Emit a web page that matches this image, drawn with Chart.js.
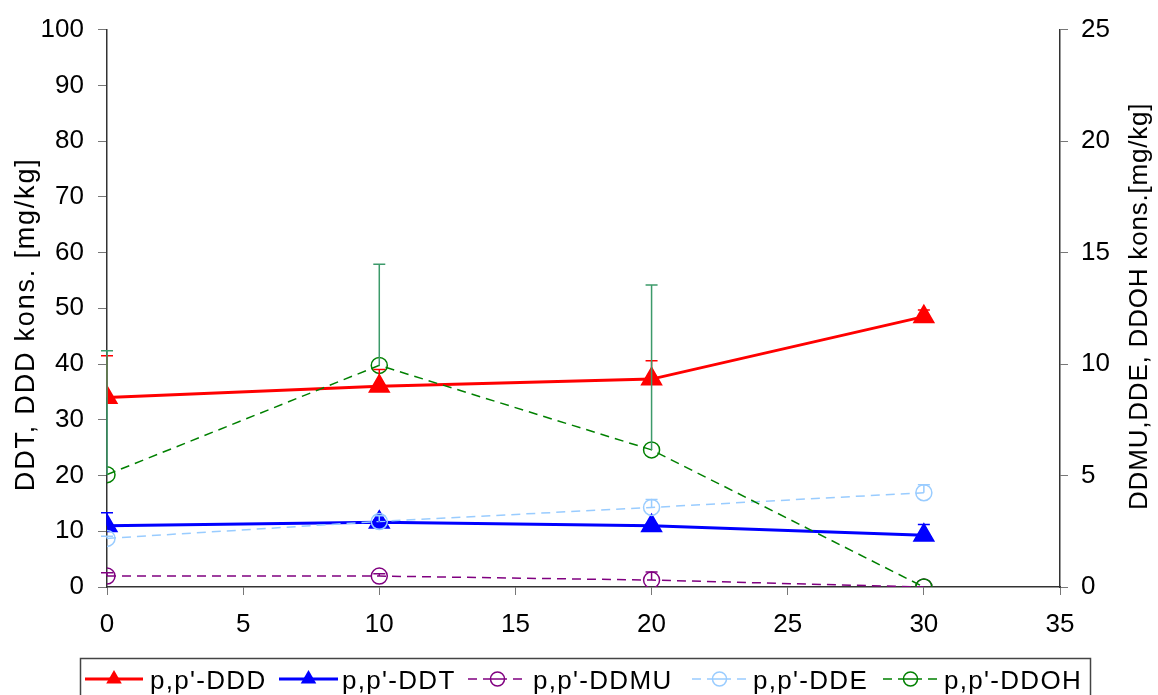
<!DOCTYPE html>
<html>
<head>
<meta charset="utf-8">
<title>DDT kons.</title>
<script src="https://cdn.jsdelivr.net/npm/chart.js@4.4.1/dist/chart.umd.min.js"></script>
<style>
    html, body { margin: 0; padding: 0; background: #fff; }
    #wrap { width: 1158px; height: 695px; }
</style>
</head>
<body>
<div id="wrap"><canvas id="ddtChart" width="1158" height="695"></canvas></div>
<script>
// sampling days (x) and measured concentrations
const days = [0, 10, 20, 30];

const dddValues = [34.0, 36.0, 37.3, 48.5];
const dddErrors = [7.5, 3.0, 3.3, 1.2];
const ddtValues = [11.0, 11.6, 11.0, 9.3];
const ddtErrors = [2.3, 0.4, 0.3, 1.9];

const ddmuValues = [0.49, 0.49, 0.31, 0];
const ddmuErrors = [0.15, 0.1, 0.36, 0];
const ddeValues = [2.18, 2.94, 3.57, 4.23];
const ddeErrors = [0.1, 0.26, 0.35, 0.36];
const ddohValues = [5.04, 9.94, 6.15, 0];
const ddohErrors = [5.56, 4.54, 7.4, 0];

const leftTitle = "DDT, DDD kons. [mg/kg]";
const rightTitle = "DDMU,DDE, DDOH kons.[mg/kg]";

const FONT = '"Liberation Sans", Arial, sans-serif';

function points(values) {
    return values.map((v, i) => ({ x: days[i], y: v }));
}

// plus-only error bars, drawn through the scales
const errorBars = {
    id: "errorBars",
    afterDatasetsDraw(chart) {
        const ctx = chart.ctx;
        chart.data.datasets.forEach((ds, di) => {
            const meta = chart.getDatasetMeta(di);
            const yScale = chart.scales[ds.yAxisID];
            ctx.save();
            ctx.strokeStyle = ds.errorColor;
            ctx.lineWidth = 1.5;
            ctx.setLineDash([]);
            (ds.errors || []).forEach((err, i) => {
                if (!err) return;
                const pt = meta.data[i];
                const top = yScale.getPixelForValue(ds.data[i].y + err);
                ctx.beginPath();
                ctx.moveTo(pt.x, pt.y);
                ctx.lineTo(pt.x, top);
                ctx.moveTo(pt.x - 6, top);
                ctx.lineTo(pt.x + 6, top);
                ctx.stroke();
            });
            ctx.restore();
        });
    }
};

// axis titles and boxed legend like the original sheet
const decorations = {
    id: "decorations",
    afterDraw(chart) {
        const ctx = chart.ctx;
        const area = chart.chartArea;
        const midY = (area.top + area.bottom) / 2;

        ctx.save();
        ctx.fillStyle = "#000";
        ctx.textAlign = "center";
        ctx.textBaseline = "alphabetic";

        ctx.save();
        ctx.font = "27px " + FONT;
        ctx.letterSpacing = "1.8px";
        ctx.translate(34, midY + 16);
        ctx.rotate(-Math.PI / 2);
        ctx.fillText(leftTitle, 0, 0);
        ctx.restore();

        ctx.save();
        ctx.font = "26px " + FONT;
        ctx.letterSpacing = "0.8px";
        ctx.translate(1147, midY - 2);
        ctx.rotate(-Math.PI / 2);
        ctx.fillText(rightTitle, 0, 0);
        ctx.restore();

        // legend box
        ctx.strokeStyle = "#444";
        ctx.lineWidth = 1.5;
        ctx.strokeRect(80.5, 658.5, 1010, 60);

        ctx.font = "26px " + FONT;
        ctx.letterSpacing = "1.3px";
        ctx.textAlign = "left";
        const lineY = 679;
        chart.data.datasets.forEach(ds => {
            const lg = ds.legendPos;
            ctx.save();
            ctx.strokeStyle = ds.borderColor;
            ctx.lineWidth = ds.borderWidth;
            ctx.setLineDash(ds.borderDash || []);
            ctx.beginPath();
            ctx.moveTo(lg[0], lineY);
            ctx.lineTo(lg[1], lineY);
            ctx.stroke();
            ctx.setLineDash([]);
            const cx = (lg[0] + lg[1]) / 2;
            if (ds.pointStyle === "triangle") {
                const r = 9;
                ctx.fillStyle = ds.borderColor;
                ctx.beginPath();
                ctx.moveTo(cx, lineY - r);
                ctx.lineTo(cx + r * 0.866, lineY + r / 2);
                ctx.lineTo(cx - r * 0.866, lineY + r / 2);
                ctx.closePath();
                ctx.fill();
            } else {
                ctx.fillStyle = "#fff";
                ctx.lineWidth = 1.5;
                ctx.beginPath();
                ctx.arc(cx, lineY, 7, 0, Math.PI * 2);
                ctx.fill();
                ctx.stroke();
                ctx.beginPath();
                ctx.moveTo(cx - 7, lineY);
                ctx.lineTo(cx + 7, lineY);
                ctx.stroke();
            }
            ctx.restore();
            ctx.fillText(ds.label, lg[2], 689);
        });
        ctx.restore();
    }
};

const ctx = document.getElementById("ddtChart");

new Chart(ctx, {
    type: "line",
    data: {
        datasets: [
            {
                label: "p,p'-DDD",
                data: points(dddValues),
                errors: dddErrors,
                errorColor: "#ff0000",
                yAxisID: "y",
                order: 5,
                borderColor: "#ff0000",
                backgroundColor: "#ff0000",
                borderWidth: 3,
                pointStyle: "triangle",
                pointRadius: 10,
                legendPos: [85, 143, 150]
            },
            {
                label: "p,p'-DDT",
                data: points(ddtValues),
                errors: ddtErrors,
                errorColor: "#0000ff",
                yAxisID: "y",
                order: 4,
                borderColor: "#0000ff",
                backgroundColor: "#0000ff",
                borderWidth: 3,
                pointStyle: "triangle",
                pointRadius: 10,
                legendPos: [279, 338, 342]
            },
            {
                label: "p,p'-DDMU",
                data: points(ddmuValues),
                errors: ddmuErrors,
                errorColor: "#800080",
                yAxisID: "y2",
                order: 3,
                borderColor: "#800080",
                backgroundColor: "rgba(0,0,0,0)",
                borderWidth: 1.5,
                borderDash: [9, 6],
                pointStyle: "circle",
                pointRadius: 8,
                pointBorderWidth: 1.5,
                legendPos: [468, 527, 533]
            },
            {
                label: "p,p'-DDE",
                data: points(ddeValues),
                errors: ddeErrors,
                errorColor: "#99ccff",
                yAxisID: "y2",
                order: 2,
                borderColor: "#99ccff",
                backgroundColor: "rgba(0,0,0,0)",
                borderWidth: 1.5,
                borderDash: [9, 6],
                pointStyle: "circle",
                pointRadius: 8,
                pointBorderWidth: 1.5,
                legendPos: [692, 747, 753]
            },
            {
                label: "p,p'-DDOH",
                data: points(ddohValues),
                errors: ddohErrors,
                errorColor: "#3c9a6a",
                yAxisID: "y2",
                order: 1,
                borderColor: "#008000",
                backgroundColor: "rgba(0,0,0,0)",
                borderWidth: 1.5,
                borderDash: [9, 6],
                pointStyle: "circle",
                pointRadius: 8,
                pointBorderWidth: 1.5,
                legendPos: [883, 938, 944]
            }
        ]
    },
    options: {
        responsive: false,
        animation: false,
        layout: { padding: { top: 24, left: 0, right: 0, bottom: 0 } },
        plugins: {
            legend: { display: false },
            tooltip: { enabled: false }
        },
        elements: { line: { tension: 0 } },
        scales: {
            x: {
                type: "linear",
                min: 0,
                max: 35,
                afterFit: scale => { scale.height = 108; },
                border: { display: true, color: "#333", width: 1.5 },
                grid: { drawOnChartArea: false, drawTicks: true, tickLength: 8, color: "#777" },
                ticks: { stepSize: 5, padding: 14, color: "#000", font: { family: FONT, size: 26 } }
            },
            y: {
                position: "left",
                min: 0,
                max: 100,
                afterFit: scale => { scale.width = 107; },
                border: { display: true, color: "#333", width: 1.5 },
                grid: { drawOnChartArea: false, drawTicks: true, tickLength: 9, color: "#777" },
                ticks: { stepSize: 10, padding: 14, color: "#000", font: { family: FONT, size: 26 } }
            },
            y2: {
                position: "right",
                min: 0,
                max: 25,
                afterFit: scale => { scale.width = 98; },
                border: { display: true, color: "#333", width: 1.5 },
                grid: { drawOnChartArea: false, drawTicks: true, tickLength: 8, color: "#777" },
                ticks: { stepSize: 5, padding: 13, color: "#000", font: { family: FONT, size: 26 } }
            }
        }
    },
    plugins: [errorBars, decorations]
});
</script>
</body>
</html>
